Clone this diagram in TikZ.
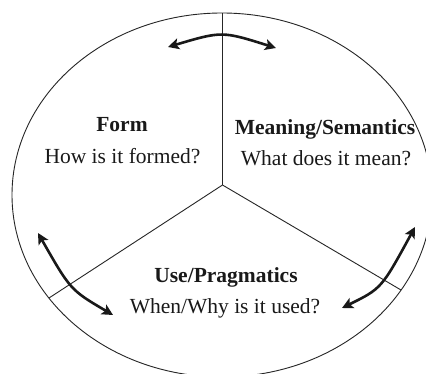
\documentclass[tikz,border=0pt]{standalone}
\usepackage{fontspec}
\setmainfont{Liberation Serif}
\usetikzlibrary{arrows.meta}
\begin{document}
\begin{tikzpicture}[x=1pt,y=-1pt,
  thinline/.style={draw=black!85,line width=0.9pt},
  cyclearrow/.style={draw=black!90,line width=2.6pt,{Stealth[length=11pt,width=11pt,inset=2.5pt]}-{Stealth[length=11pt,width=11pt,inset=2.5pt]}},
  title/.style={anchor=base,font=\fontsize{21.5}{26}\selectfont\bfseries,text=black!90,inner sep=0pt},
  question/.style={anchor=base,font=\fontsize{21.5}{26}\selectfont,text=black!90,inner sep=0pt}]
\useasboundingbox (0,0) rectangle (426,374);
\clip (0,0) rectangle (426,374);
\fill[white] (0,0) rectangle (426,374);
% outer ellipse
\draw[thinline] (222,195) ellipse [x radius=210pt, y radius=182pt];
% sector dividers
\coordinate (c) at (222.5,185);
\coordinate (top) at (222.5,13);
\coordinate (ll) at (49,298);
\coordinate (lr) at (401,290);
\draw[thinline] (c) -- (top);
\draw[thinline] (c) -- (ll);
\draw[thinline] (c) -- (lr);
% cycle arrows
\coordinate (a1) at (168,47);
\coordinate (a2) at (276,48);
\coordinate (b1) at (38,233);
\coordinate (b2) at (113,315);
\coordinate (d1) at (415,227);
\coordinate (d2) at (342,308);
\draw[cyclearrow] (a1) .. controls (222,31) .. (a2);
\draw[cyclearrow] (b1) .. controls (70.5,290) .. (b2);
\draw[cyclearrow] (d1) .. controls (381.5,288.5) .. (d2);
% labels
\node[title] (form) at (122,131.5) {Form};
\node[question] (formq) at (122.5,163.3) {How is it formed?};
\node[title] (mean) at (325,135) {Meaning/Semantics};
\node[question] (meanq) at (326,165.7) {What does it mean?};
\node[title] (use) at (226,283) {Use/Pragmatics};
\node[question] (useq) at (225,314) {When/Why is it used?};
\end{tikzpicture}
\end{document}
